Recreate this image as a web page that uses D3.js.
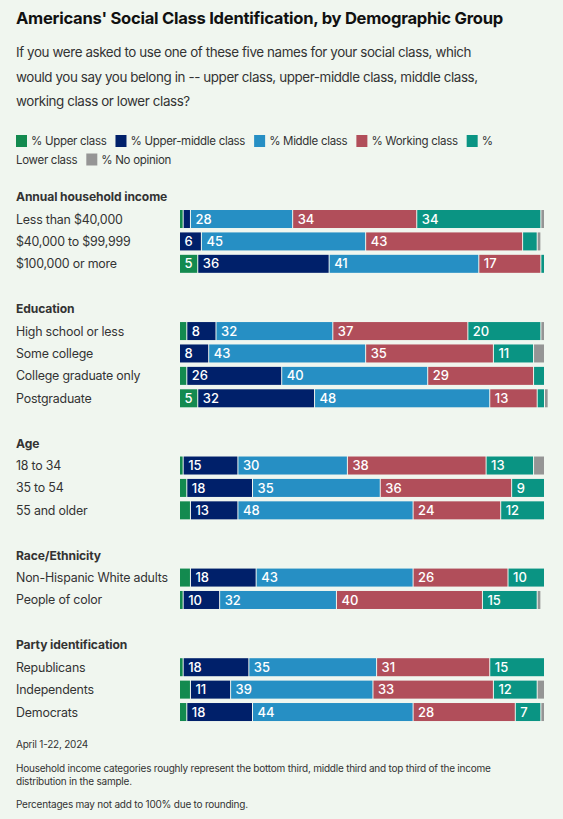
<!DOCTYPE html>
<html><head><meta charset="utf-8">
<script src="https://cdn.jsdelivr.net/npm/d3@7/dist/d3.min.js"></script>
<style>
html,body{margin:0;padding:0;background:#f0f6ef;}
svg{display:block;font-family:Inter,"Noto Sans",sans-serif;}
</style></head>
<body><svg id="chart" width="563" height="819"></svg>
<script>
const groups = ["Annual household income","Education","Age","Race/Ethnicity","Party identification"];
const categories = ["Less than $40,000","$40,000 to $99,999","$100,000 or more",
  "High school or less","Some college","College graduate only","Postgraduate",
  "18 to 34","35 to 54","55 and older",
  "Non-Hispanic White adults","People of color",
  "Republicans","Independents","Democrats"];
const categoryGroup = [0,0,0, 1,1,1,1, 2,2,2, 3,3, 4,4,4];
const seriesNames = ["% Upper class","% Upper-middle class","% Middle class","% Working class","% Lower class","% No opinion"];
const upperClass       = [1,0,5, 2,0,2,5, 1,2,3, 3,1, 1,3,2];
const upperMiddleClass = [2,6,36, 8,8,26,32, 15,18,13, 18,10, 18,11,18];
const middleClass      = [28,45,41, 32,43,40,48, 30,35,48, 43,32, 35,39,44];
const workingClass     = [34,43,17, 37,35,29,13, 38,36,24, 26,40, 31,33,28];
const lowerClass       = [34,4,1, 20,11,3,2, 13,9,12, 10,15, 15,12,7];
const noOpinion        = [1,1,0, 1,3,0,1, 3,0,0, 0,1, 0,2,1];
const xTicks = [0,100];
const colors = ["#138a4f","#00206a","#268fc4","#b14e5a","#0a9483","#959595"];

const series = [upperClass,upperMiddleClass,middleClass,workingClass,lowerClass,noOpinion];
const svg = d3.select("#chart");
const textCol = "#333";

// Title
svg.append("text").attr("x",16).attr("y",24).attr("font-size",16.6).attr("letter-spacing",-0.27).attr("font-weight",700)
  .attr("fill","#111").text("Americans' Social Class Identification, by Demographic Group");
const sub = ["If you were asked to use one of these five names for your social class, which",
  "would you say you belong in -- upper class, upper-middle class, middle class,",
  "working class or lower class?"];
svg.append("g").selectAll("text").data(sub).join("text")
  .attr("x",16).attr("y",(d,i)=>57+i*24.5).attr("font-size",13.4).attr("letter-spacing",-0.4).attr("fill",textCol).text(d=>d);

// Legend (flow layout)
const LFS = 11.5, LLS = -0.3;
const lg = svg.append("g").attr("font-size",LFS).attr("letter-spacing",LLS).attr("fill",textCol);
let lx = 16, ly = 0; const maxX = 510, lineH = 18.5, ly0 = 141;
const meas = svg.append("text").attr("font-size",LFS).attr("letter-spacing",LLS).attr("visibility","hidden");
const w = s => { meas.text(s); return meas.node().getComputedTextLength(); };
const spaceW = w("a a") - w("aa");
seriesNames.forEach((name,i)=>{
  if (lx + 11 > maxX) { lx = 16; ly++; }
  lg.append("rect").attr("x",lx).attr("y",ly0+ly*lineH-6).attr("width",11).attr("height",12).attr("fill",colors[i]);
  lx += 15;
  name.split(" ").forEach((word,j)=>{
    const ww = w(word);
    if (lx + ww > maxX) { lx = 16; ly++; }
    lg.append("text").attr("x",lx).attr("y",ly0+ly*lineH+4.2).text(word);
    lx += ww + spaceW;
  });
  lx += 9 - spaceW;
});
meas.remove();

// Slots
const slots = [];
groups.forEach((g,gi)=>{
  slots.push("h"+gi);
  categories.forEach((c,ci)=>{ if (categoryGroup[ci]===gi) slots.push("r"+ci); });
  slots.push("s"+gi);
});
const step = 22.41, pad = 1 - 18/step;
const y = d3.scaleBand().domain(slots).range([187.6, 187.6 + step*(slots.length - pad)])
  .paddingInner(pad).paddingOuter(0).align(0);
const x = d3.scaleLinear().domain(xTicks).range([180,545]);

// Group headers
svg.append("g").selectAll("text").data(groups).join("text")
  .attr("x",16).attr("y",(d,i)=>y("h"+i)+y.bandwidth()/2+4.4)
  .attr("font-size",12.1).attr("letter-spacing",-0.1).attr("font-weight",700).attr("fill",textCol).text(d=>d);
// Row labels
svg.append("g").selectAll("text").data(categories).join("text")
  .attr("x",16).attr("y",(d,i)=>y("r"+i)+y.bandwidth()/2+4.5)
  .attr("font-size",12.4).attr("letter-spacing",-0.2).attr("fill",textCol).text(d=>d);

// Bars
const segs = [];
categories.forEach((c,ci)=>{
  let acc = 0;
  series.forEach((s,si)=>{
    const v = s[ci];
    segs.push({ci, si, v, x0: acc, x1: acc+v});
    acc += v;
  });
});
const bars = svg.append("g");
bars.selectAll("rect").data(segs.filter(d=>d.v>0)).join("rect")
  .attr("x",d=>x(d.x0)).attr("y",d=>y("r"+d.ci))
  .attr("width",d=>Math.max(0,x(d.x1)-x(d.x0)-1)).attr("height",y.bandwidth())
  .attr("fill",d=>colors[d.si]);
bars.selectAll("text").data(segs.filter(d=>d.v>=5)).join("text")
  .attr("x",d=>x(d.x0)+4.5).attr("y",d=>y("r"+d.ci)+y.bandwidth()/2+4.6)
  .attr("font-size",13).attr("font-weight",500).attr("fill","#fff").text(d=>d.v);

// Footer
const foot = svg.append("g").attr("font-size",10).attr("letter-spacing",-0.22).attr("fill",textCol);
foot.append("text").attr("x",16).attr("y",748).text("April 1-22, 2024");
foot.append("text").attr("x",16).attr("y",772).text("Household income categories roughly represent the bottom third, middle third and top third of the income");
foot.append("text").attr("x",16).attr("y",785).text("distribution in the sample.");
foot.append("text").attr("x",16).attr("y",808).text("Percentages may not add to 100% due to rounding.");
</script></body></html>
